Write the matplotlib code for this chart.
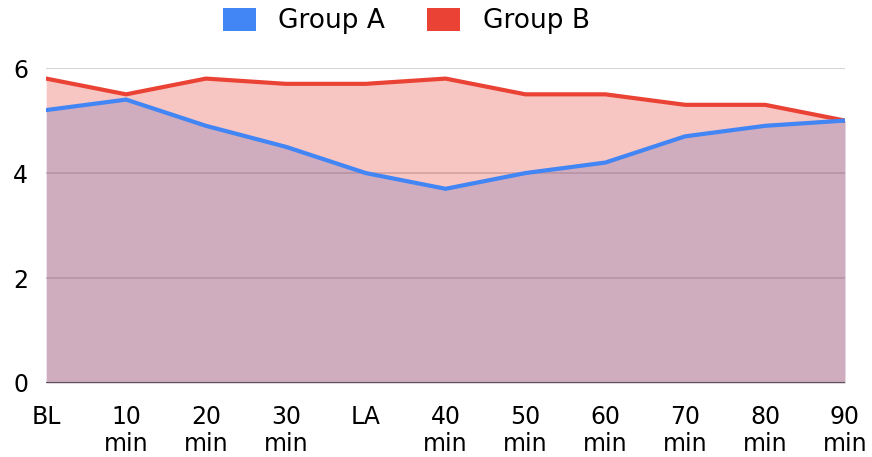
import matplotlib.pyplot as plt
from matplotlib.patches import Patch

plt.rcParams['font.family'] = ['DejaVu Sans']

# data
labels = ['BL', '10\nmin', '20\nmin', '30\nmin', 'LA', '40\nmin', '50\nmin',
          '60\nmin', '70\nmin', '80\nmin', '90\nmin']
group_a = [5.2, 5.4, 4.9, 4.5, 4.0, 3.7, 4.0, 4.2, 4.7, 4.9, 5.0]
group_b = [5.8, 5.5, 5.8, 5.7, 5.7, 5.8, 5.5, 5.5, 5.3, 5.3, 5.0]

blue = '#4285F4'
red = '#EA4335'

fig = plt.figure(figsize=(8.72, 4.57), dpi=100)
ax = fig.add_axes([0.053, 0.162, 0.916, 0.689])

x = list(range(len(labels)))

# grid under the areas
for yv in [2, 4, 6]:
    ax.axhline(yv, color='#cccccc', lw=1.2, zorder=0)

#areas: A first, B on top (gives the pinkish purple overlap)
ax.fill_between(x, 0, group_a, color=blue, alpha=0.3, lw=0, zorder=1)
ax.fill_between(x, 0, group_b, color=red, alpha=0.3, lw=0, zorder=2)
ax.plot(x, group_b, color=red, lw=3, zorder=3, solid_joinstyle='round')
ax.plot(x, group_a, color=blue, lw=3, zorder=4, solid_joinstyle='round')
ax.axhline(0, color='#555555', lw=1.5, zorder=5)

ax.set_xlim(0, len(labels) - 1)
ax.set_ylim(0, 6)
ax.set_yticks([0, 2, 4, 6])
ax.set_xticks(x)
ax.set_xticklabels(labels, fontsize=17, linespacing=1.15)
ax.tick_params(axis='y', labelsize=17, length=0, pad=13)
ax.tick_params(axis='x', length=0, pad=16)
for s in ax.spines.values():
    s.set_visible(False)

handles = [Patch(facecolor=blue, label='Group A'),
           Patch(facecolor=red, label='Group B')]
fig.legend(handles=handles, loc='center', bbox_to_anchor=(0.466, 1 - 21 / 457),
           ncol=2, frameon=False, fontsize=19, handlelength=1.25,
           handleheight=0.95, columnspacing=1.6, handletextpad=0.85,
           borderpad=0)

plt.savefig('out.png', dpi=100)
